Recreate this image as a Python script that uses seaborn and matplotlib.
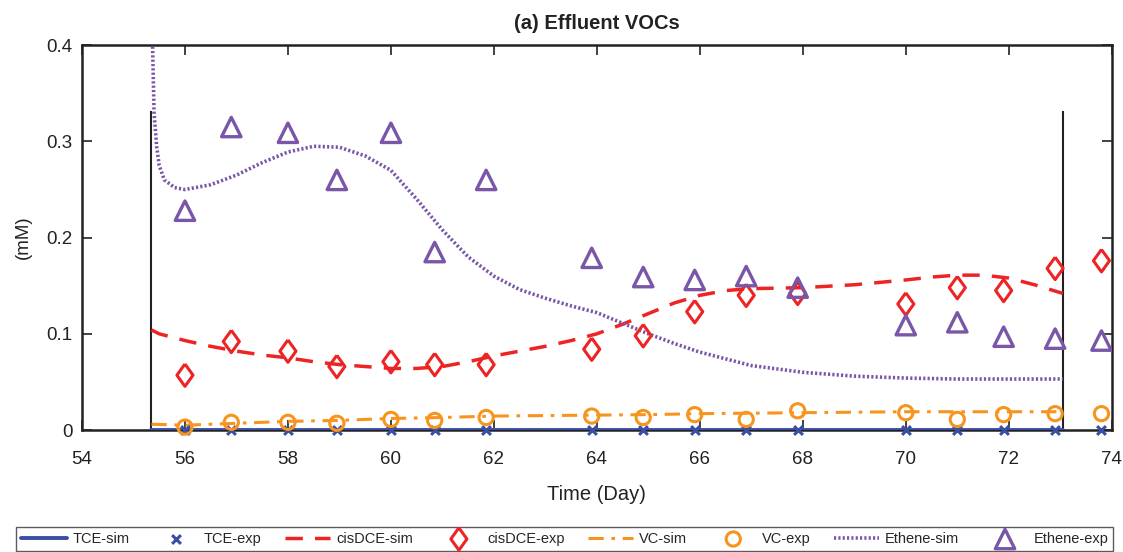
import numpy as np
import pandas as pd
import seaborn as sns
import matplotlib
matplotlib.use("Agg")
import matplotlib.pyplot as plt

# ---------------- data ----------------
t_exp = [56.0, 56.9, 58.0, 58.95, 60.0, 60.85, 61.85, 63.9, 64.9, 65.9, 66.9,
         67.9, 70.0, 71.0, 71.9, 72.9, 73.8]
tce_exp = [0.0] * 17
dce_exp = [0.057, 0.092, 0.082, 0.066, 0.071, 0.068, 0.068, 0.084, 0.098, 0.123,
           0.140, 0.142, 0.131, 0.148, 0.145, 0.168, 0.176]
vc_exp = [0.003, 0.008, 0.008, 0.007, 0.011, 0.010, 0.013, 0.0145, 0.013, 0.016,
          0.011, 0.020, 0.018, 0.011, 0.016, 0.017, 0.017]
eth_exp = [0.228, 0.315, 0.309, 0.260, 0.309, 0.185, 0.260, 0.179, 0.159, 0.156,
           0.160, 0.148, 0.109, 0.112, 0.097, 0.095, 0.093]

t_tce_sim = [55.35, 73.05]
tce_sim = [0.0, 0.0]

t_dce_sim = [55.35, 55.5, 56, 56.5, 57, 57.5, 58, 58.5, 59, 59.5, 60, 60.5, 61, 61.5,
             62, 62.5, 63, 63.5, 64, 64.5, 65, 65.5, 66, 66.5, 67, 68, 69, 70, 70.5,
             71, 71.5, 72, 72.5, 73.05]
dce_sim = [0.104, 0.100, 0.093, 0.087, 0.082, 0.078, 0.075, 0.071, 0.068, 0.066,
           0.064, 0.064, 0.066, 0.071, 0.077, 0.082, 0.087, 0.093, 0.100, 0.110,
           0.121, 0.132, 0.140, 0.145, 0.147, 0.148, 0.151, 0.156, 0.159, 0.161,
           0.161, 0.158, 0.151, 0.142]

t_vc_sim = [55.35, 56, 57, 58, 59, 60, 61, 62, 63, 64, 65, 66, 67, 68, 69, 70, 71, 72, 73.05]
vc_sim = [0.006, 0.005, 0.007, 0.009, 0.010, 0.012, 0.013, 0.0145, 0.015, 0.0155,
          0.016, 0.017, 0.0175, 0.018, 0.0185, 0.019, 0.019, 0.019, 0.019]

t_eth_sim = [55.35, 55.4, 55.45, 55.5, 55.6, 55.8, 56, 56.5, 57, 57.5, 58, 58.5, 59,
             59.5, 60, 60.5, 61, 61.5, 62, 62.5, 63, 63.5, 64, 64.5, 65, 65.5, 66,
             67, 68, 69, 70, 71, 72, 73.05]
eth_sim = [0.45, 0.33, 0.295, 0.275, 0.260, 0.252, 0.250, 0.255, 0.265, 0.278,
           0.289, 0.295, 0.294, 0.285, 0.270, 0.240, 0.208, 0.180, 0.160, 0.146,
           0.137, 0.129, 0.122, 0.111, 0.100, 0.090, 0.081, 0.067, 0.060, 0.056,
           0.054, 0.053, 0.053, 0.053]

phase_bounds = [55.35, 73.05]
phase_top = 0.332

x_ticks = [54, 56, 58, 60, 62, 64, 66, 68, 70, 72, 74]
y_ticks = [0, 0.1, 0.2, 0.3, 0.4]
y_tick_labels = ["0", "0.1", "0.2", "0.3", "0.4"]

# ---------------- style ----------------
sns.set_theme(style="white")
plt.rcParams["font.family"] = ["Liberation Sans", "DejaVu Sans"]

c_tce = "#3A4EA6"
c_dce = "#EE2424"
c_vc = "#F7941D"
c_eth = "#7A56A8"
c_txt = "#222222"

diamond = [(0, 1), (0.72, 0), (0, -1), (-0.72, 0), (0, 1)]

fig = plt.figure(figsize=(11.23, 5.52), dpi=100)
ax = fig.add_axes([0.073, 0.221, 0.917, 0.697])

# phase boundary lines
ax.vlines(phase_bounds, 0, phase_top, color=c_txt, lw=1.5, zorder=1)

sns.lineplot(x=t_tce_sim, y=tce_sim, ax=ax, color=c_tce, lw=2.8, label="TCE-sim",
             sort=False, estimator=None, zorder=3)
sns.scatterplot(x=t_exp, y=tce_exp, ax=ax, color=c_tce, marker="x", s=40,
                linewidth=2.2, label="TCE-exp", zorder=4, clip_on=False)
sns.lineplot(x=t_dce_sim, y=dce_sim, ax=ax, color=c_dce, lw=2.5, label="cisDCE-sim",
             sort=False, estimator=None, zorder=3)
ax.lines[-1].set_dashes([5, 3.5])
sns.scatterplot(x=t_exp, y=dce_exp, ax=ax, marker=diamond, s=260, facecolor="none",
                edgecolor=c_dce, linewidth=2.2, label="cisDCE-exp", zorder=4)
sns.lineplot(x=t_vc_sim, y=vc_sim, ax=ax, color=c_vc, lw=2.2, label="VC-sim",
             sort=False, estimator=None, zorder=3)
ax.lines[-1].set_dashes([5, 2.5, 1.2, 2.5])
sns.scatterplot(x=t_exp, y=vc_exp, ax=ax, marker="o", s=105, facecolor="none",
                edgecolor=c_vc, linewidth=2.2, label="VC-exp", zorder=4, clip_on=False)
sns.lineplot(x=t_eth_sim, y=eth_sim, ax=ax, color=c_eth, lw=2.6, label="Ethene-sim",
             sort=False, estimator=None, zorder=3)
ax.lines[-1].set_dashes([0.6, 0.6])
sns.scatterplot(x=t_exp, y=eth_exp, ax=ax, marker="^", s=195, facecolor="none",
                edgecolor=c_eth, linewidth=2.4, label="Ethene-exp", zorder=4)

ax.set_xlim(54, 74)
ax.set_ylim(0, 0.4)
ax.set_xticks(x_ticks)
ax.set_yticks(y_ticks)
ax.set_yticklabels(y_tick_labels)
ax.tick_params(axis="both", direction="in", length=7, width=1.2, top=True, right=True,
               labelsize=13.5, colors=c_txt, bottom=True, left=True)
ax.tick_params(axis="x", pad=15)
ax.tick_params(axis="y", pad=7)
for sp in ax.spines.values():
    sp.set_visible(True)
    sp.set_color(c_txt)
    sp.set_linewidth(1.8)

ax.set_xlabel("Time (Day)", fontsize=14.5, color=c_txt, labelpad=12)
ax.set_ylabel("(mM)", fontsize=13.5, color=c_txt, labelpad=10)
ax.set_title("(a) Effluent VOCs", fontsize=14.5, fontweight="bold", color=c_txt, pad=12)

handles, labels = ax.get_legend_handles_labels()
ax.get_legend().remove()
leg = fig.legend(handles, labels, loc="lower center", ncol=8,
                 bbox_to_anchor=(0.503, -0.006), fontsize=10.5, frameon=True,
                 fancybox=False, edgecolor="#333333", handlelength=3.1,
                 columnspacing=1.6, handletextpad=0.4, borderpad=0.35,
                 borderaxespad=0.3)
leg.get_frame().set_linewidth(1.0)

fig.savefig("out.png", dpi=100)
